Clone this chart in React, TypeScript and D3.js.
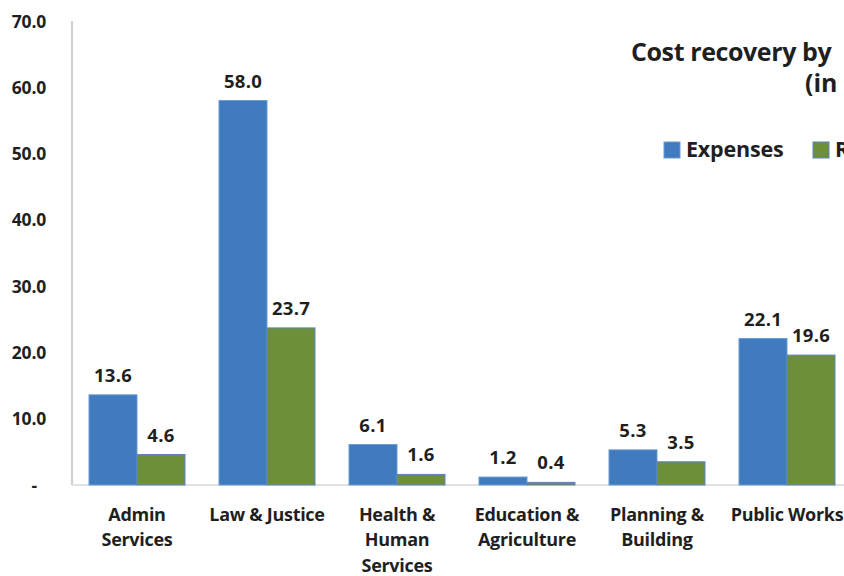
import React from "react";
import * as d3 from "d3";

const categories: string[][] = [
  ["Admin", "Services"],
  ["Law & Justice"],
  ["Health &", "Human", "Services"],
  ["Education &", "Agriculture"],
  ["Planning &", "Building"],
  ["Public Works"],
];
const expenses = [13.6, 58.0, 6.1, 1.2, 5.3, 22.1];
const revenue = [4.6, 23.7, 1.6, 0.4, 3.5, 19.6];
const seriesNames = ["Expenses", "R"];
const yTicks = [0, 10, 20, 30, 40, 50, 60, 70];
const titleLines = ["Cost recovery by", "(in"];

const BLUE = "#3F7BBE";
const GREEN = "#6E8F3A";
const TEXT = "#1f1f1f";
const FONT = "'Open Sans', Lato, sans-serif";

export default function App() {
  const W = 844;
  const H = 576;
  const left = 72;
  const bandW = 130;
  const x = d3
    .scaleBand<number>()
    .domain(d3.range(categories.length))
    .range([left, left + bandW * categories.length])
    .paddingInner(0)
    .paddingOuter(0);
  const y = d3.scaleLinear().domain([0, 70]).range([485, 21]);
  const inner = d3
    .scaleBand<number>()
    .domain([0, 1])
    .range([17, bandW - 17]);
  const series = [expenses, revenue];
  const colors = [BLUE, GREEN];
  const strokes = ["#6a9bd4", "#5b86c0"];

  return (
    <svg
      width={W}
      height={H}
      style={{ position: "absolute", left: 0, top: 0, background: "#fff" }}
      fontFamily={FONT}
    >
      <line x1={left} x2={left} y1={y(70)} y2={y(0)} stroke="#bfbfbf" strokeWidth={1.5} />
      <line x1={left} x2={W} y1={y(0)} y2={y(0)} stroke="#d9d9d9" strokeWidth={1.5} />
      {yTicks.map((t) => (
        <text
          key={t}
          x={t === 0 ? 37 : 46}
          y={y(t) + 6.5}
          textAnchor="end"
          fontSize={17.5}
          fontWeight={700}
          letterSpacing={-0.2}
          fill={TEXT}
        >
          {t === 0 ? "-" : d3.format(".1f")(t)}
        </text>
      ))}
      {categories.map((cat, i) => {
        const bx = x(i)!;
        return (
          <g key={i}>
            {series.map((s, j) => {
              const v = s[i];
              const x0 = bx + inner(j)!;
              const w = inner.bandwidth();
              return (
                <g key={j}>
                  <rect
                    x={x0}
                    y={y(v)}
                    width={w}
                    height={y(0) - y(v)}
                    fill={colors[j]}
                    stroke={strokes[j]}
                    strokeWidth={1}
                  />
                  <text
                    x={x0 + w / 2}
                    y={y(v) - 13}
                    textAnchor="middle"
                    fontSize={18.5}
                    fontWeight={700}
                    fill={TEXT}
                    letterSpacing={0.3}
                  >
                    {d3.format(".1f")(v)}
                  </text>
                </g>
              );
            })}
            {cat.map((line, k) => (
              <text
                key={k}
                x={bx + bandW / 2}
                y={521 + k * 25.3}
                textAnchor="middle"
                fontSize={18}
                fontWeight={700}
                letterSpacing={-0.3}
                fill={TEXT}
              >
                {line}
              </text>
            ))}
          </g>
        );
      })}
      <text x={631} y={61} fontSize={25} fontWeight={700} letterSpacing={-0.4} fill={TEXT}>
        {titleLines[0]}
      </text>
      <text x={805} y={92} fontSize={25} fontWeight={700} fill={TEXT}>
        {titleLines[1]}
      </text>
      {seriesNames.map((n, j) => {
        const lx = j === 0 ? 664 : 813;
        return (
          <g key={n}>
            <rect x={lx} y={142} width={16} height={16} fill={colors[j]} stroke={strokes[j]} />
            <text x={lx + 22} y={157} fontSize={21.5} fontWeight={700} letterSpacing={-0.2} fill={TEXT}>
              {n}
            </text>
          </g>
        );
      })}
    </svg>
  );
}
